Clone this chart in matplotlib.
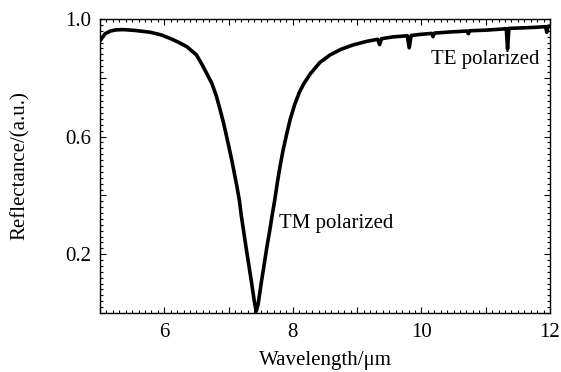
import matplotlib
matplotlib.use("Agg")
import matplotlib.pyplot as plt
from matplotlib.ticker import MultipleLocator, FixedLocator, FuncFormatter

# -------------------
# Data
# -------------------
wavelength = [5.00, 5.03, 5.08, 5.16, 5.25, 5.36, 5.55, 5.78, 5.95, 6.09,
              6.22, 6.35, 6.50, 6.58, 6.66, 6.74, 6.81, 6.87, 6.92, 6.97,
              7.01, 7.05, 7.09, 7.13, 7.17, 7.20, 7.24, 7.27, 7.31, 7.36,
              7.40, 7.43, 7.46, 7.51, 7.55, 7.60, 7.64, 7.68, 7.72, 7.76,
              7.80, 7.85, 7.90, 7.96, 8.03, 8.10, 8.17, 8.27, 8.42, 8.58,
              8.75, 8.94, 9.15, 9.32, 9.35, 9.38, 9.55, 9.78, 9.81, 9.84,
              10.00, 10.16, 10.18, 10.20, 10.45, 10.71, 10.73, 10.75, 11.00,
              11.20, 11.32, 11.34, 11.36, 11.60, 11.80, 11.93, 11.95, 11.97,
              12.00]
reflectance = [0.925, 0.935, 0.950, 0.959, 0.963, 0.964, 0.961, 0.955, 0.946, 0.934,
               0.921, 0.906, 0.878, 0.848, 0.815, 0.781, 0.738, 0.690, 0.648, 0.600,
               0.560, 0.520, 0.475, 0.430, 0.380, 0.328, 0.270, 0.226, 0.170, 0.100,
               0.040, 0.006, 0.030, 0.105, 0.160, 0.230, 0.280, 0.335, 0.387, 0.445,
               0.498, 0.556, 0.605, 0.660, 0.710, 0.750, 0.780, 0.813, 0.852, 0.878,
               0.897, 0.912, 0.924, 0.931, 0.913, 0.933, 0.939, 0.943, 0.902, 0.944,
               0.948, 0.951, 0.940, 0.952, 0.956, 0.959, 0.950, 0.960, 0.962,
               0.965, 0.967, 0.898, 0.968, 0.970, 0.972, 0.974, 0.955, 0.975,
               0.976]

plt.rcParams["font.family"] = ["Liberation Serif", "DejaVu Serif"]

fig = plt.figure(figsize=(5.61, 3.72), dpi=100)
ax = fig.add_axes([100 / 561, 1 - 313 / 372, 450 / 561, 294 / 372])

ax.plot(wavelength, reflectance, color="black", lw=2.6,
        solid_joinstyle="round", solid_capstyle="round")

ax.set_xlim(5, 12)
ax.set_ylim(0, 1.0)

# majors every 1 / 0.2, only some of them labelled
ax.xaxis.set_major_locator(FixedLocator([5, 6, 7, 8, 9, 10, 11, 12]))
ax.xaxis.set_minor_locator(MultipleLocator(0.1))
ax.xaxis.set_major_formatter(FuncFormatter(
    lambda v, p: f"{v:.0f}" if round(v) % 2 == 0 and v > 5 else ""))
ax.yaxis.set_major_locator(FixedLocator([0.0, 0.2, 0.4, 0.6, 0.8, 1.0]))
ax.yaxis.set_minor_locator(MultipleLocator(0.02))
ax.yaxis.set_major_formatter(FuncFormatter(
    lambda v, p: f"{v:.1f}" if round(v * 10) in (2, 6, 10) else ""))

ax.tick_params(which="both", direction="in", top=True, right=True,
               labelsize=15, width=0.8)
ax.tick_params(which="major", length=4)
ax.tick_params(which="minor", length=2)
ax.tick_params(axis="x", pad=7)
ax.tick_params(axis="y", pad=6)

for s in ax.spines.values():
    s.set_linewidth(1.0)

ax.set_xlabel("Wavelength/μm", fontsize=15, va="center", ha="center")
ax.set_ylabel("Reflectance/(a.u.)", fontsize=15, va="center", ha="center")
ax.xaxis.set_label_coords(0.502, -0.16)
ax.yaxis.set_label_coords(-0.178, 0.50)

ax.text(7.78, 0.304, "TM polarized", fontsize=15, va="center", ha="left")
ax.text(11.83, 0.862, "TE polarized", fontsize=15, va="center", ha="right")

fig.savefig("out.png", dpi=100)
